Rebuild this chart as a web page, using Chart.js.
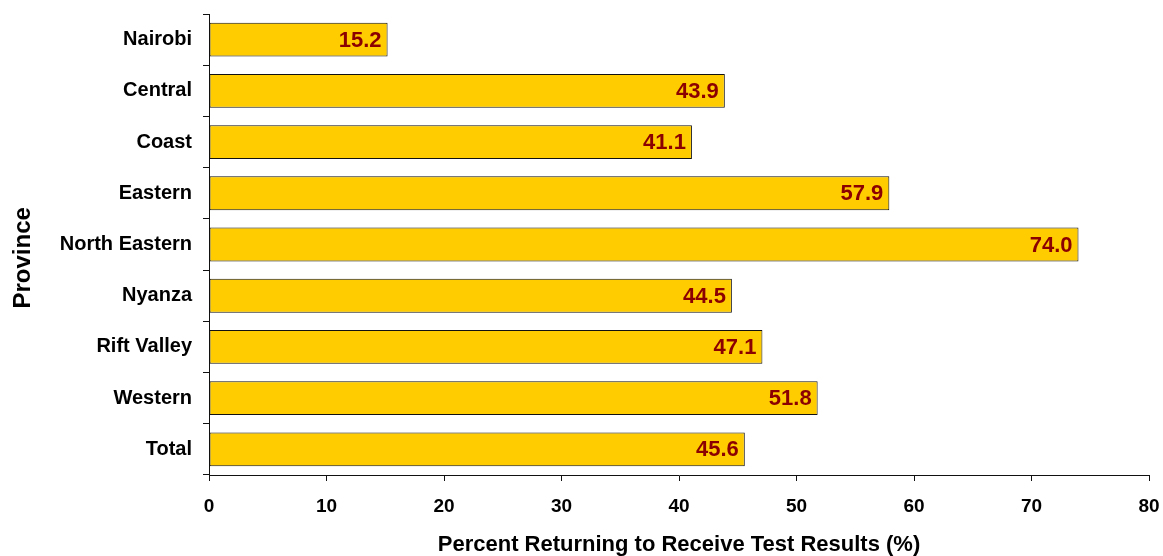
<!DOCTYPE html>
<html>
<head>
<meta charset="utf-8">
<script src="https://cdn.jsdelivr.net/npm/chart.js@4/dist/chart.umd.min.js"></script>
<style>
  html, body { margin: 0; padding: 0; background: #fff; }
  #wrap { width: 1163px; height: 556px; }
</style>
</head>
<body>
<div id="wrap"><canvas id="Province_Chart"></canvas></div>
<script>
const provinces = ['Nairobi', 'Central', 'Coast', 'Eastern', 'North Eastern', 'Nyanza', 'Rift Valley', 'Western', 'Total'];
const percentReturning = [15.2, 43.9, 41.1, 57.9, 74.0, 44.5, 47.1, 51.8, 45.6];
const xTicks = [0, 10, 20, 30, 40, 50, 60, 70, 80];

const FONT = 'Arial, "Liberation Sans", sans-serif';

// draws the value at the right end of each bar
const valueLabels = {
    id: 'valueLabels',
    afterDatasetsDraw(chart) {
        const ctx = chart.ctx;
        const meta = chart.getDatasetMeta(0);
        ctx.save();
        ctx.font = 'bold 22px ' + FONT;
        ctx.fillStyle = '#8B0000';
        ctx.textAlign = 'right';
        ctx.textBaseline = 'middle';
        meta.data.forEach((bar, i) => {
            ctx.fillText(percentReturning[i].toFixed(1), bar.x - 6, bar.y + 1);
        });
        ctx.restore();
    }
};

const Prov_chart = document.getElementById('Province_Chart');

new Chart(Prov_chart, {
    type: 'bar',
    data: {
        labels: provinces,
        datasets: [{
            data: percentReturning,
            backgroundColor: '#FFCC00',
            borderColor: '#111',
            borderWidth: 1,
            borderSkipped: false,
            categoryPercentage: 1,
            barPercentage: 0.66
        }]
    },
    options: {
        indexAxis: 'y',
        responsive: true,
        maintainAspectRatio: false,
        animation: false,
        layout: { padding: { top: 14, right: 14, left: 0, bottom: 0 } },
        plugins: {
            legend: { display: false },
            tooltip: { enabled: false }
        },
        scales: {
            x: {
                min: 0,
                max: 80,
                afterBuildTicks: (axis) => { axis.ticks = xTicks.map(v => ({ value: v })); },
                afterFit: (axis) => {
                    axis.height = 81;
                    axis.paddingLeft = 0;
                    axis.paddingRight = 0;
                },
                border: { color: '#111', width: 1 },
                grid: { drawOnChartArea: false, drawTicks: true, tickLength: 6, tickColor: '#111' },
                ticks: {
                    color: '#000',
                    padding: 14,
                    font: { family: FONT, size: 19, weight: 'bold' }
                },
                title: {
                    display: true,
                    text: 'Percent Returning to Receive Test Results (%)',
                    color: '#000',
                    padding: { top: 0, bottom: -2 },
                    font: { family: FONT, size: 22, weight: 'bold' }
                }
            },
            y: {
                afterFit: (axis) => {
                    axis.width = 209;
                    axis.paddingTop = 0;
                    axis.paddingBottom = 0;
                },
                border: { color: '#111', width: 1 },
                grid: { offset: true, drawOnChartArea: false, drawTicks: true, tickLength: 6, tickColor: '#111' },
                ticks: {
                    color: '#000',
                    padding: 11,
                    font: { family: FONT, size: 20, weight: 'bold' }
                },
                title: {
                    display: true,
                    text: 'Province    ',
                    color: '#000',
                    padding: { top: 9, bottom: 0 },
                    font: { family: FONT, size: 24, weight: 'bold' }
                }
            }
        }
    },
    plugins: [valueLabels]
});
</script>
</body>
</html>
